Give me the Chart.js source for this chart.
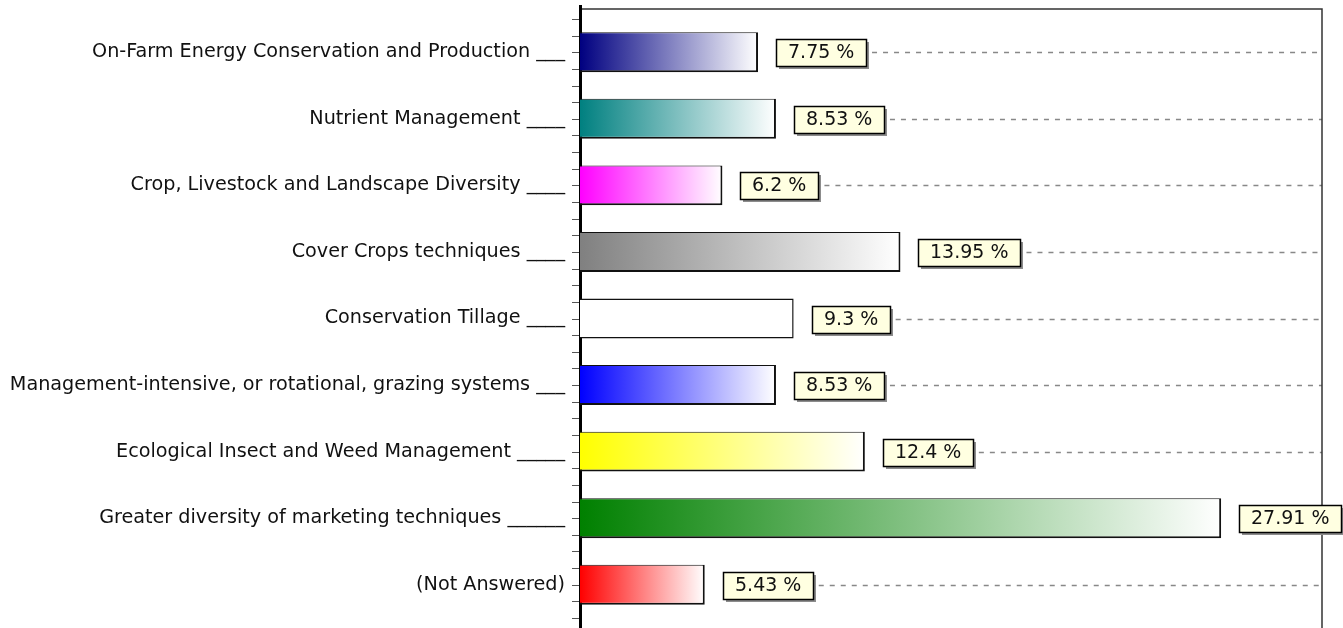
<!DOCTYPE html>
<html lang="en">
<head>
    <meta charset="UTF-8">
    <title>practices_bar</title>
    <script src="https://cdn.jsdelivr.net/npm/chart.js@4.4.1/dist/chart.umd.min.js"></script>
    <style>
        *{margin:0; padding:0;}
        html, body{background:#fff; overflow:hidden;}
        #wrap{width:1343px; height:628px;}
        canvas{display:block;}
    </style>
</head>
<body>
    <div id="wrap">
        <canvas id="barChart" width="1343" height="628"></canvas>
    </div>

    <script>
        const categories = [
            'On-Farm Energy Conservation and Production ___',
            'Nutrient Management ____',
            'Crop, Livestock and Landscape Diversity ____',
            'Cover Crops techniques ____',
            'Conservation Tillage ____',
            'Management-intensive, or rotational, grazing systems ___',
            'Ecological Insect and Weed Management _____',
            'Greater diversity of marketing techniques ______',
            '(Not Answered)'
        ]
        const percents = [7.75, 8.53, 6.2, 13.95, 9.3, 8.53, 12.4, 27.91, 5.43]
        const valueLabels = ['7.75 %', '8.53 %', '6.2 %', '13.95 %', '9.3 %', '8.53 %', '12.4 %', '27.91 %', '5.43 %']
        const startColors = ['#000080', '#008080', '#ff00ff', '#808080', '#ffffff', '#0000ff', '#ffff00', '#008000', '#ff0000']

        const FONT = '"DejaVu Sans", Verdana, sans-serif'
        const FONT_SIZE = 19

        // gradient from the colour at the axis to white at the bar end
        function barFill(c){
            const chart = c.chart
            const x = chart.scales.x
            if(!x || !chart.chartArea) return startColors[c.dataIndex]
            const x0 = x.getPixelForValue(0)
            const x1 = x.getPixelForValue(percents[c.dataIndex])
            const g = chart.ctx.createLinearGradient(x0, 0, x1, 0)
            g.addColorStop(0, startColors[c.dataIndex])
            g.addColorStop(1, '#ffffff')
            return g
        }

        function boxWidth(ctx, i){
            return Math.round(ctx.measureText(valueLabels[i]).width + 24)
        }

        const framePlugin = {
            id:'frame',
            beforeDatasetsDraw:function(chart){
                const ctx = chart.ctx
                const area = chart.chartArea
                const y = chart.scales.y
                const H = chart.height
                ctx.save()

                // dashed guide lines after the value boxes
                ctx.font = FONT_SIZE + 'px ' + FONT
                ctx.strokeStyle = '#888'
                ctx.lineWidth = 1.5
                ctx.setLineDash([5, 6])
                percents.forEach(function(v, i){
                    const cy = y.getPixelForValue(i)
                    const bx = chart.scales.x.getPixelForValue(v) + 18
                    const start = bx + boxWidth(ctx, i) + 6
                    if(start < area.right){
                        ctx.beginPath()
                        ctx.moveTo(start, Math.round(cy) + 0.5)
                        ctx.lineTo(area.right, Math.round(cy) + 0.5)
                        ctx.stroke()
                    }
                })
                ctx.setLineDash([])

                // box top and right
                ctx.strokeStyle = '#333'
                ctx.lineWidth = 1.5
                ctx.beginPath()
                ctx.moveTo(area.left, 9)
                ctx.lineTo(area.right, 9)
                ctx.lineTo(area.right, H)
                ctx.stroke()

                // minor ticks, 4 per category
                ctx.strokeStyle = '#555'
                ctx.lineWidth = 1
                for(let k = -4; k < categories.length * 4 + 4; k++){
                    const ty = y.getPixelForValue(k / 4)
                    if(ty < 14 || ty > H) continue
                    ctx.beginPath()
                    ctx.moveTo(area.left - 8, Math.round(ty) + 0.5)
                    ctx.lineTo(area.left, Math.round(ty) + 0.5)
                    ctx.stroke()
                }

                // thick axis line
                ctx.strokeStyle = '#000'
                ctx.lineWidth = 3
                ctx.beginPath()
                ctx.moveTo(area.left + 0.5, 5)
                ctx.lineTo(area.left + 0.5, H)
                ctx.stroke()
                ctx.restore()
            },
            afterDatasetsDraw:function(chart){
                const ctx = chart.ctx
                const y = chart.scales.y
                const x = chart.scales.x
                ctx.save()
                ctx.font = FONT_SIZE + 'px ' + FONT
                ctx.textBaseline = 'middle'
                ctx.textAlign = 'left'
                percents.forEach(function(v, i){
                    const cy = Math.round(y.getPixelForValue(i))
                    const bx = Math.round(x.getPixelForValue(v) + 18)
                    const bw = boxWidth(ctx, i)
                    const bh = 27
                    const by = cy - 13

                    ctx.fillStyle = '#8c8c8c'
                    ctx.fillRect(bx + 3, by + 3, bw, bh)
                    ctx.fillStyle = '#ffffe1'
                    ctx.fillRect(bx, by, bw, bh)
                    ctx.strokeStyle = '#000'
                    ctx.lineWidth = 1.5
                    ctx.strokeRect(bx + 0.5, by + 0.5, bw, bh)

                    ctx.fillStyle = '#111'
                    ctx.fillText(valueLabels[i], bx + 12, cy + 1)
                })
                ctx.restore()
            }
        }

        const config = {
            type:'bar',
            data:{
                labels:categories,
                datasets:[
                    {
                        data:percents,
                        backgroundColor:barFill,
                        borderColor:'#111',
                        borderWidth:function(c){
                            if(startColors[c.dataIndex] === '#ffffff') return {top:1.5, right:1.5, bottom:1.5, left:0}
                            return {top:1, right:2, bottom:2, left:0}
                        },
                        borderSkipped:false,
                        barPercentage:0.6,
                        categoryPercentage:1
                    }
                ]
            },
            options:{
                indexAxis:'y',
                responsive:false,
                animation:false,
                layout:{
                    padding:{top:19, right:21, bottom:10, left:0}
                },
                plugins:{
                    legend:false,
                    tooltip:{enabled:false}
                },
                scales:{
                    x:{
                        display:false,
                        min:0,
                        max:32.3
                    },
                    y:{
                        offset:true,
                        grid:{display:false, drawTicks:false},
                        border:{display:false},
                        ticks:{
                            color:'#111',
                            padding:15,
                            font:{family:FONT, size:19.2}
                        },
                        afterFit:function(scale){
                            scale.width = 580
                            scale.paddingTop = 0
                            scale.paddingBottom = 0
                        }
                    }
                }
            },
            plugins:[framePlugin]
        }

        const ctx = document.querySelector('#barChart').getContext('2d')
        let barChart = new Chart(ctx, config)
    </script>
</body>
</html>
